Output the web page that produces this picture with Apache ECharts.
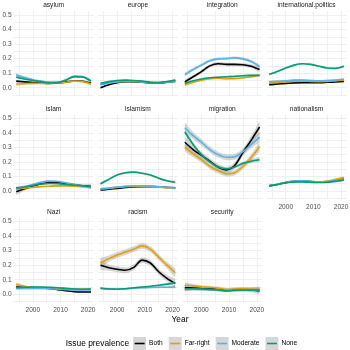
<!DOCTYPE html>
<html>
<head>
<meta charset="utf-8">
<script src="https://cdn.jsdelivr.net/npm/echarts@6/dist/echarts.min.js"></script>
<style>
    html, body { margin: 0; padding: 0; background: #fff; }
    #main { width: 350px; height: 350px; }
</style>
</head>
<body>
<div id="main"></div>
<script>
var years = [1994, 1997, 2000, 2003, 2006, 2009, 2012, 2015, 2018, 2021];
var groups = ['Both', 'Far-right', 'Moderate', 'None'];
var colors = ['#000000', '#E69F00', '#56B4E9', '#009E73'];
var panels = ['asylum', 'europe', 'integration', 'international.politics', 'islam', 'islamism',
    'migration', 'nationalism', 'Nazi', 'racism', 'security'];
var xTickValues = [2000, 2010, 2020];
var yTickValues = [0, 0.1, 0.2, 0.3, 0.4, 0.5];
var yTickLabels = ['0.0', '0.1', '0.2', '0.3', '0.4', '0.5'];

// rows: Both, Far-right, Moderate, None
var asylumLine = [
    [0.045, 0.040, 0.035, 0.032, 0.030, 0.032, 0.040, 0.046, 0.044, 0.030],
    [0.025, 0.028, 0.030, 0.030, 0.030, 0.032, 0.038, 0.045, 0.043, 0.025],
    [0.088, 0.070, 0.055, 0.045, 0.038, 0.038, 0.055, 0.078, 0.076, 0.045],
    [0.072, 0.060, 0.050, 0.040, 0.033, 0.035, 0.052, 0.076, 0.074, 0.045]
];
var asylumBand = [
    [0.010, 0.007, 0.006, 0.005, 0.005, 0.005, 0.005, 0.006, 0.007, 0.010],
    [0.010, 0.007, 0.006, 0.005, 0.005, 0.005, 0.005, 0.006, 0.007, 0.010],
    [0.012, 0.008, 0.007, 0.006, 0.006, 0.006, 0.006, 0.007, 0.008, 0.012],
    [0.008, 0.005, 0.004, 0.004, 0.004, 0.004, 0.004, 0.005, 0.005, 0.008]
];
var europeLine = [
    [0.000, 0.020, 0.035, 0.042, 0.042, 0.038, 0.033, 0.033, 0.038, 0.045],
    [0.025, 0.035, 0.042, 0.045, 0.045, 0.040, 0.035, 0.035, 0.040, 0.048],
    [0.020, 0.032, 0.040, 0.044, 0.044, 0.040, 0.035, 0.034, 0.038, 0.042],
    [0.030, 0.042, 0.050, 0.052, 0.050, 0.045, 0.038, 0.036, 0.042, 0.052]
];
var europeBand = [
    [0.010, 0.006, 0.005, 0.005, 0.005, 0.005, 0.005, 0.005, 0.006, 0.010],
    [0.008, 0.005, 0.004, 0.004, 0.004, 0.004, 0.004, 0.004, 0.005, 0.008],
    [0.008, 0.005, 0.004, 0.004, 0.004, 0.004, 0.004, 0.004, 0.005, 0.008],
    [0.007, 0.004, 0.004, 0.004, 0.004, 0.004, 0.004, 0.004, 0.004, 0.007]
];
var integrationLine = [
    [0.040, 0.075, 0.110, 0.150, 0.165, 0.160, 0.160, 0.158, 0.148, 0.125],
    [0.020, 0.038, 0.052, 0.062, 0.065, 0.062, 0.063, 0.068, 0.075, 0.085],
    [0.090, 0.125, 0.155, 0.185, 0.198, 0.200, 0.205, 0.198, 0.180, 0.145],
    [0.030, 0.048, 0.060, 0.068, 0.072, 0.075, 0.078, 0.082, 0.085, 0.085]
];
var integrationBand = [
    [0.018, 0.012, 0.012, 0.012, 0.012, 0.012, 0.012, 0.012, 0.014, 0.018],
    [0.010, 0.007, 0.006, 0.006, 0.006, 0.006, 0.006, 0.006, 0.007, 0.010],
    [0.014, 0.010, 0.010, 0.010, 0.010, 0.010, 0.010, 0.010, 0.011, 0.014],
    [0.008, 0.005, 0.005, 0.005, 0.005, 0.005, 0.005, 0.005, 0.005, 0.008]
];
var politicsLine = [
    [0.020, 0.025, 0.030, 0.033, 0.035, 0.035, 0.035, 0.037, 0.040, 0.043],
    [0.032, 0.036, 0.040, 0.043, 0.045, 0.043, 0.042, 0.043, 0.047, 0.052],
    [0.040, 0.044, 0.048, 0.052, 0.053, 0.050, 0.048, 0.050, 0.053, 0.058],
    [0.092, 0.112, 0.135, 0.155, 0.165, 0.160, 0.148, 0.135, 0.133, 0.147]
];
var politicsBand = [
    [0.006, 0.004, 0.004, 0.004, 0.004, 0.004, 0.004, 0.004, 0.004, 0.006],
    [0.007, 0.005, 0.004, 0.004, 0.004, 0.004, 0.004, 0.004, 0.005, 0.007],
    [0.008, 0.005, 0.005, 0.005, 0.005, 0.005, 0.005, 0.005, 0.005, 0.008],
    [0.008, 0.006, 0.006, 0.006, 0.006, 0.006, 0.006, 0.006, 0.006, 0.008]
];
var islamLine = [
    [-0.005, 0.015, 0.035, 0.050, 0.058, 0.058, 0.050, 0.042, 0.036, 0.030],
    [0.015, 0.020, 0.025, 0.030, 0.033, 0.035, 0.035, 0.033, 0.030, 0.027],
    [0.020, 0.030, 0.045, 0.060, 0.068, 0.065, 0.055, 0.045, 0.035, 0.025],
    [0.020, 0.028, 0.038, 0.048, 0.052, 0.050, 0.045, 0.040, 0.035, 0.030]
];
var islamBand = [
    [0.025, 0.014, 0.010, 0.010, 0.010, 0.010, 0.010, 0.010, 0.012, 0.018],
    [0.010, 0.006, 0.005, 0.005, 0.005, 0.005, 0.005, 0.005, 0.006, 0.008],
    [0.012, 0.008, 0.007, 0.007, 0.007, 0.007, 0.007, 0.007, 0.008, 0.012],
    [0.008, 0.005, 0.004, 0.004, 0.004, 0.004, 0.004, 0.004, 0.005, 0.007]
];
var islamismLine = [
    [0.007, 0.012, 0.018, 0.024, 0.028, 0.030, 0.030, 0.028, 0.025, 0.022],
    [0.015, 0.018, 0.024, 0.030, 0.032, 0.032, 0.030, 0.026, 0.022, 0.018],
    [0.014, 0.020, 0.027, 0.033, 0.036, 0.036, 0.034, 0.030, 0.025, 0.020],
    [0.050, 0.080, 0.110, 0.125, 0.130, 0.122, 0.110, 0.088, 0.070, 0.060]
];
var islamismBand = [
    [0.008, 0.005, 0.005, 0.005, 0.005, 0.005, 0.005, 0.005, 0.005, 0.008],
    [0.008, 0.005, 0.005, 0.005, 0.005, 0.005, 0.005, 0.005, 0.005, 0.008],
    [0.008, 0.005, 0.005, 0.005, 0.005, 0.005, 0.005, 0.005, 0.005, 0.008],
    [0.010, 0.007, 0.007, 0.007, 0.007, 0.007, 0.007, 0.007, 0.007, 0.010]
];
var migrationLine = [
    [0.335, 0.285, 0.245, 0.205, 0.165, 0.145, 0.175, 0.265, 0.350, 0.440],
    [0.300, 0.255, 0.215, 0.170, 0.140, 0.118, 0.125, 0.170, 0.230, 0.305],
    [0.435, 0.380, 0.335, 0.285, 0.250, 0.232, 0.235, 0.270, 0.320, 0.370],
    [0.405, 0.320, 0.250, 0.200, 0.165, 0.152, 0.165, 0.190, 0.205, 0.215]
];
var migrationBand = [
    [0.040, 0.028, 0.024, 0.022, 0.022, 0.022, 0.022, 0.024, 0.030, 0.045],
    [0.030, 0.022, 0.020, 0.018, 0.018, 0.018, 0.018, 0.020, 0.024, 0.032],
    [0.035, 0.025, 0.022, 0.020, 0.020, 0.020, 0.020, 0.022, 0.026, 0.035],
    [0.020, 0.014, 0.012, 0.010, 0.010, 0.010, 0.010, 0.011, 0.013, 0.018]
];
var nationalismLine = [
    [0.035, 0.045, 0.058, 0.066, 0.068, 0.065, 0.062, 0.064, 0.072, 0.082],
    [0.035, 0.045, 0.058, 0.065, 0.066, 0.063, 0.062, 0.068, 0.080, 0.092],
    [0.035, 0.046, 0.060, 0.068, 0.070, 0.066, 0.063, 0.065, 0.072, 0.080],
    [0.035, 0.045, 0.056, 0.062, 0.063, 0.060, 0.058, 0.060, 0.066, 0.075]
];
var nationalismBand = [
    [0.006, 0.004, 0.004, 0.004, 0.004, 0.004, 0.004, 0.004, 0.004, 0.006],
    [0.006, 0.004, 0.004, 0.004, 0.004, 0.004, 0.004, 0.004, 0.005, 0.007],
    [0.006, 0.004, 0.004, 0.004, 0.004, 0.004, 0.004, 0.004, 0.004, 0.006],
    [0.005, 0.003, 0.003, 0.003, 0.003, 0.003, 0.003, 0.003, 0.003, 0.005]
];
var naziLine = [
    [0.050, 0.048, 0.046, 0.044, 0.040, 0.032, 0.024, 0.018, 0.016, 0.016],
    [0.068, 0.055, 0.047, 0.045, 0.044, 0.042, 0.040, 0.036, 0.034, 0.035],
    [0.040, 0.040, 0.040, 0.040, 0.038, 0.035, 0.032, 0.030, 0.030, 0.032],
    [0.045, 0.048, 0.050, 0.050, 0.048, 0.045, 0.040, 0.036, 0.035, 0.036]
];
var naziBand = [
    [0.012, 0.007, 0.006, 0.005, 0.005, 0.005, 0.005, 0.005, 0.006, 0.010],
    [0.014, 0.008, 0.006, 0.006, 0.006, 0.006, 0.006, 0.006, 0.007, 0.010],
    [0.010, 0.006, 0.005, 0.005, 0.005, 0.005, 0.005, 0.005, 0.006, 0.008],
    [0.008, 0.005, 0.004, 0.004, 0.004, 0.004, 0.004, 0.004, 0.005, 0.007]
];
var racismLine = [
    [0.200, 0.183, 0.172, 0.165, 0.185, 0.235, 0.215, 0.155, 0.110, 0.075],
    [0.215, 0.245, 0.270, 0.290, 0.310, 0.333, 0.310, 0.255, 0.200, 0.148],
    [0.042, 0.037, 0.036, 0.038, 0.042, 0.045, 0.047, 0.048, 0.048, 0.050],
    [0.042, 0.036, 0.035, 0.038, 0.045, 0.050, 0.055, 0.062, 0.070, 0.080]
];
var racismBand = [
    [0.035, 0.022, 0.020, 0.020, 0.020, 0.020, 0.020, 0.020, 0.022, 0.030],
    [0.035, 0.022, 0.020, 0.020, 0.020, 0.020, 0.020, 0.020, 0.022, 0.032],
    [0.010, 0.007, 0.006, 0.006, 0.006, 0.006, 0.006, 0.006, 0.007, 0.010],
    [0.006, 0.004, 0.004, 0.004, 0.004, 0.004, 0.004, 0.004, 0.004, 0.006]
];
var securityLine = [
    [0.045, 0.043, 0.040, 0.037, 0.033, 0.027, 0.030, 0.032, 0.030, 0.025],
    [0.062, 0.058, 0.052, 0.048, 0.042, 0.033, 0.036, 0.037, 0.035, 0.033],
    [0.035, 0.035, 0.034, 0.032, 0.030, 0.025, 0.027, 0.030, 0.030, 0.028],
    [0.038, 0.038, 0.036, 0.034, 0.030, 0.024, 0.028, 0.030, 0.030, 0.030]
];
var securityBand = [
    [0.025, 0.016, 0.014, 0.013, 0.013, 0.013, 0.013, 0.014, 0.016, 0.025],
    [0.020, 0.013, 0.011, 0.011, 0.011, 0.011, 0.011, 0.011, 0.013, 0.020],
    [0.015, 0.010, 0.009, 0.009, 0.009, 0.009, 0.009, 0.009, 0.010, 0.015],
    [0.012, 0.008, 0.007, 0.007, 0.007, 0.007, 0.007, 0.007, 0.008, 0.012]
];

var panelLines = [asylumLine, europeLine, integrationLine, politicsLine, islamLine, islamismLine,
    migrationLine, nationalismLine, naziLine, racismLine, securityLine];
var panelBands = [asylumBand, europeBand, integrationBand, politicsBand, islamBand, islamismBand,
    migrationBand, nationalismBand, naziBand, racismBand, securityBand];

var FONT = '"Liberation Sans", Arial, sans-serif';
var PANEL_LEFT = 13.6, PANEL_TOP = 11, PANEL_W = 80, PANEL_H = 85, STEP_X = 84.3, STEP_Y = 103.3;
var bottomPanels = [7, 8, 9, 10];

function panelBox(i) {
    var col = i % 4, row = Math.floor(i / 4);
    return {left: PANEL_LEFT + col * STEP_X, top: PANEL_TOP + row * STEP_Y};
}

var grids = [], xAxes = [], yAxes = [], series = [], graphics = [];

panels.forEach(function (name, i) {
    var box = panelBox(i);
    grids.push({
        left: box.left, top: box.top, width: PANEL_W, height: PANEL_H,
        containLabel: false, outerBoundsMode: 'none'
    });
    xAxes.push({
        type: 'value', gridIndex: i, min: 1993.05, max: 2021.95,
        minInterval: 5, maxInterval: 5,
        axisLine: {show: false}, axisTick: {show: false},
        splitLine: {show: true, showMinLine: false, showMaxLine: false, lineStyle: {color: '#ebebeb', width: 0.8}},
        axisLabel: {
            show: bottomPanels.indexOf(i) >= 0, fontSize: 6.6, color: '#4d4d4d', margin: 4, fontFamily: FONT,
            showMinLabel: false, showMaxLabel: false,
            formatter: function (v) {
                for (var t = 0; t < xTickValues.length; t++) {
                    if (Math.abs(v - xTickValues[t]) < 1e-6) return String(xTickValues[t]);
                }
                return '';
            }
        }
    });
    yAxes.push({
        type: 'value', gridIndex: i, min: -0.057, max: 0.527,
        minInterval: 0.05, maxInterval: 0.05,
        axisLine: {show: false}, axisTick: {show: false},
        splitLine: {show: true, showMinLine: false, showMaxLine: false, lineStyle: {color: '#ebebeb', width: 0.8}},
        axisLabel: {
            show: i % 4 === 0, fontSize: 6.6, color: '#4d4d4d', margin: 2, fontFamily: FONT,
            showMinLabel: false, showMaxLabel: false,
            formatter: function (v) {
                for (var t = 0; t < yTickValues.length; t++) {
                    if (Math.abs(v - yTickValues[t]) < 1e-6) return yTickLabels[t];
                }
                return '';
            }
        }
    });

    // strip label
    graphics.push({
        type: 'text', x: box.left + PANEL_W / 2, y: box.top - 5.5,
        style: {text: name, fill: '#1a1a1a', font: '6.6px ' + FONT, align: 'center', verticalAlign: 'middle'}
    });

    var lines = panelLines[i], bands = panelBands[i];
    groups.forEach(function (g, k) {
        var stack = name + '-' + g;
        // ribbon = transparent lower bound + stacked band width.
        // value column first so ECharts stacks y, not x (encode maps it back)
        series.push({
            type: 'line', xAxisIndex: i, yAxisIndex: i, stack: stack, stackStrategy: 'all',
            encode: {x: 1, y: 0},
            smooth: 0.3, symbol: 'none', silent: true, lineStyle: {opacity: 0},
            data: years.map(function (yr, j) { return [lines[k][j] - bands[k][j], yr]; })
        });
        series.push({
            type: 'line', xAxisIndex: i, yAxisIndex: i, stack: stack, stackStrategy: 'all',
            encode: {x: 1, y: 0},
            smooth: 0.3, symbol: 'none', silent: true, lineStyle: {opacity: 0},
            areaStyle: {color: '#999999', opacity: 0.4},
            data: years.map(function (yr, j) { return [2 * bands[k][j], yr]; })
        });
        series.push({
            type: 'line', name: g, xAxisIndex: i, yAxisIndex: i,
            smooth: 0.3, symbol: 'none', silent: true,
            lineStyle: {color: colors[k], width: 1.6},
            data: years.map(function (yr, j) { return [yr, lines[k][j]]; })
        });
    });
});

// axis title
graphics.push({
    type: 'text', x: 180, y: 320,
    style: {text: 'Year', fill: '#000', font: '8.4px ' + FONT, align: 'center', verticalAlign: 'middle'}
});

// legend, laid out from measured text widths
var ctx = document.createElement('canvas').getContext('2d');
function textWidth(t, f) { ctx.font = f; return ctx.measureText(t).width; }
var titleFont = '8.4px ' + FONT, labelFont = '6.6px ' + FONT;
var KEY = 13, legendY = 343.5, KEY_GAP = 3, ITEM_GAP = 6;
var total = textWidth('Issue prevalence', titleFont) + 4;
groups.forEach(function (g, k) {
    total += KEY + KEY_GAP + textWidth(g, labelFont) + (k < groups.length - 1 ? ITEM_GAP : 0);
});
var lx = 181.5 - total / 2;
graphics.push({
    type: 'text', x: lx, y: legendY,
    style: {text: 'Issue prevalence', fill: '#000', font: titleFont, align: 'left', verticalAlign: 'middle'}
});
lx += textWidth('Issue prevalence', titleFont) + 4;
groups.forEach(function (g, k) {
    graphics.push({
        type: 'rect', shape: {x: lx, y: legendY - KEY / 2, width: KEY, height: KEY},
        style: {fill: '#d6d6d6'}
    });
    graphics.push({
        type: 'line', shape: {x1: lx + 1.5, y1: legendY, x2: lx + KEY - 1.5, y2: legendY},
        style: {stroke: colors[k], lineWidth: 1.6}
    });
    lx += KEY + KEY_GAP;
    graphics.push({
        type: 'text', x: lx, y: legendY,
        style: {text: g, fill: '#000', font: labelFont, align: 'left', verticalAlign: 'middle'}
    });
    lx += textWidth(g, labelFont) + ITEM_GAP;
});

var chart = echarts.init(document.getElementById('main'));
chart.setOption({
    backgroundColor: '#ffffff',
    animation: false,
    grid: grids,
    xAxis: xAxes,
    yAxis: yAxes,
    series: series,
    graphic: {elements: graphics}
});
</script>
</body>
</html>
